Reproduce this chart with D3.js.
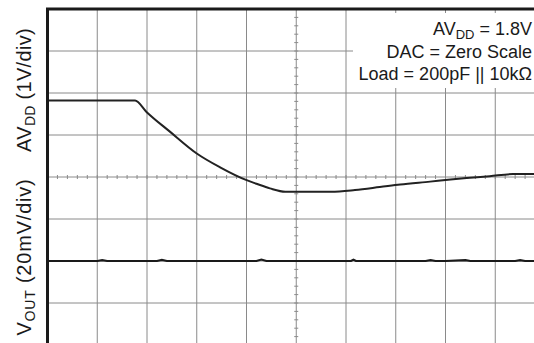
<!DOCTYPE html>
<html>
<head>
<meta charset="utf-8">
<script src="https://cdn.jsdelivr.net/npm/d3@7"></script>
<style>
  body { margin: 0; background: #fff; }
  svg { display: block; font-family: "Liberation Sans", Arial, sans-serif; }
</style>
</head>
<body>
<div id="chart"></div>
<script>
// time in divisions, AVDD in volts (1V/div, 0V on center line)
var avddTime = [0, 1.76, 1.99, 2.46, 3.0, 3.47, 3.99, 4.2, 4.47, 4.78, 5.7, 6.18, 6.68, 7.09, 7.69, 8.1, 8.49, 8.89, 9.36, 9.78, 10];
var avddVolts = [1.82, 1.82, 1.55, 1.08, 0.56, 0.23, -0.07, -0.16, -0.27, -0.35, -0.35, -0.31, -0.24, -0.18, -0.11, -0.06, -0.02, 0.02, 0.07, 0.07, 0.07];

// VOUT in mV (20mV/div, 0mV two divisions below center)
var voutTime = [0, 0.5, 1.0, 1.1, 1.2, 2.2, 2.3, 2.4, 3.0, 3.5, 4.2, 4.3, 4.4, 5.0, 5.5, 6.1, 6.15, 6.2, 7.6, 7.7, 7.8, 8.0, 8.4, 8.5, 9.4, 9.5, 9.6, 10];
var voutMv = [0, 0, 0, 0.4, 0, 0, 0.5, 0, 0, 0, 0, 0.7, 0, 0, 0, 0, 0.6, 0, 0, 0.4, 0, 0, 0.4, 0, 0, 0.4, 0, 0];

var labelLines = ["AV|DD| = 1.8V", "DAC = Zero Scale", "Load = 200pF || 10k\u03A9"];

var width = 534, height = 343;
var svg = d3.select('#chart').append('svg')
    .attr('width', width)
    .attr('height', height);

// scales in divisions (10 x 8 graticule, partly off the picture)
var x = d3.scaleLinear().domain([0, 10]).range([47.5, 545]);
var y = d3.scaleLinear().domain([-4, 4]).range([345, 9]);
var yAvdd = function(v) { return y(v); };          // 1 V / div
var yVout = function(mv) { return y(mv / 20 - 2); }; // 20 mV / div

var gridColor = '#8a8a8a';

// grid
svg.append('g').selectAll('line')
    .data(d3.range(1, 10))
    .enter().append('line')
    .attr('x1', function(d) { return x(d); })
    .attr('x2', function(d) { return x(d); })
    .attr('y1', y(4)).attr('y2', y(-4))
    .style('stroke', gridColor).style('stroke-width', 1);

svg.append('g').selectAll('line')
    .data(d3.range(-3, 4))
    .enter().append('line')
    .attr('x1', x(0)).attr('x2', x(10))
    .attr('y1', function(d) { return y(d); })
    .attr('y2', function(d) { return y(d); })
    .style('stroke', gridColor).style('stroke-width', 1);

// minor ticks on the center lines
svg.append('g').selectAll('line')
    .data(d3.range(1, 50).map(function(i) { return i / 5; }))
    .enter().append('line')
    .attr('x1', function(d) { return x(d); })
    .attr('x2', function(d) { return x(d); })
    .attr('y1', y(0) - 2).attr('y2', y(0) + 2)
    .style('stroke', gridColor).style('stroke-width', 1);

svg.append('g').selectAll('line')
    .data(d3.range(-19, 20).map(function(i) { return i / 5; }))
    .enter().append('line')
    .attr('x1', x(5) - 2).attr('x2', x(5) + 2)
    .attr('y1', function(d) { return y(d); })
    .attr('y2', function(d) { return y(d); })
    .style('stroke', gridColor).style('stroke-width', 1);

// white box behind the annotation
svg.append('rect')
    .attr('x', 353).attr('y', 13)
    .attr('width', width - 353).attr('height', 75)
    .style('fill', '#fff');

// traces
var lineAvdd = d3.line()
    .x(function(d, i) { return x(avddTime[i]); })
    .y(function(d) { return yAvdd(d); })
    .curve(d3.curveMonotoneX);

svg.append('path')
    .datum(avddVolts)
    .attr('d', lineAvdd)
    .style('fill', 'none')
    .style('stroke', '#222')
    .style('stroke-width', 2);

var lineVout = d3.line()
    .x(function(d, i) { return x(voutTime[i]); })
    .y(function(d) { return yVout(d); });

svg.append('path')
    .datum(voutMv)
    .attr('d', lineVout)
    .style('fill', 'none')
    .style('stroke', '#1a1a1a')
    .style('stroke-width', 2.2);

// frame (top and left, the rest is off the picture)
svg.append('line')
    .attr('x1', x(0) - 1.5).attr('x2', width)
    .attr('y1', y(4)).attr('y2', y(4))
    .style('stroke', '#1a1a1a').style('stroke-width', 3);
svg.append('line')
    .attr('x1', x(0)).attr('x2', x(0))
    .attr('y1', y(4)).attr('y2', height)
    .style('stroke', '#1a1a1a').style('stroke-width', 3);

// annotation text, right aligned
var ann = svg.append('g')
    .style('font-size', '18px')
    .style('fill', '#1a1a1a')
    .attr('text-anchor', 'end');

labelLines.forEach(function(s, i) {
    var t = ann.append('text')
        .attr('x', 532)
        .attr('y', 35 + i * 22.5);
    var parts = s.split('|');
    if (parts.length === 3 && parts[1] === 'DD') {
        t.append('tspan').text(parts[0]);
        t.append('tspan').attr('dy', 4).style('font-size', '13px').text(parts[1]);
        t.append('tspan').attr('dy', -4).text(parts[2]);
    } else {
        t.text(s);
    }
});

// rotated axis labels
function sideLabel(cy, main, sub, rest, spacing) {
    var t = svg.append('text')
        .attr('transform', 'translate(31,' + cy + ') rotate(-90)')
        .attr('text-anchor', 'middle')
        .style('font-size', '20px')
        .style('letter-spacing', spacing + 'px')
        .style('fill', '#1a1a1a');
    t.append('tspan').text(main);
    t.append('tspan').attr('dy', 4).style('font-size', '14px').text(sub);
    t.append('tspan').attr('dy', -4).text(rest);
}
sideLabel(90, 'AV', 'DD', ' (1V/div)', 0.3);
sideLabel(257, 'V', 'OUT', ' (20mV/div)', 0.8);
</script>
</body>
</html>
